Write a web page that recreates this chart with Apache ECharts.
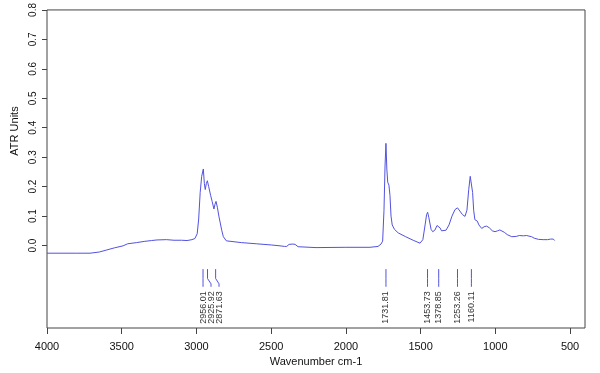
<!DOCTYPE html>
<html>
<head>
<meta charset="utf-8">
<script src="https://cdn.jsdelivr.net/npm/echarts@6/dist/echarts.min.js"></script>
<style>
html,body{margin:0;padding:0;background:#fff;}
#chart{width:600px;height:373px;}
</style>
</head>
<body>
<div id="chart"></div>
<script>
// Spectrum: wavenumber (cm-1) and ATR absorbance
var wavenumbers = [4000,3800,3712,3650,3600,3550,3491,3460,3450,3400,3350,3300,3264,3200,3150,3100,3063,3030,3010,2995,2985,2975,2965,2954,2947,2941,2934,2927,2918,2905,2895,2883,2876,2869,2860,2850,2842,2830,2820,2800,2787,2700,2600,2500,2441,2410,2396,2380,2367,2355,2340,2320,2307,2200,2000,1839,1785,1765,1754,1745,1738,1732,1726,1720,1712,1705,1698,1690,1675,1650,1600,1550,1504,1485,1470,1460,1453,1445,1430,1419,1405,1390,1379,1370,1360,1348,1330,1310,1290,1270,1253,1240,1220,1203,1190,1178,1168,1160,1152,1145,1137,1128,1121,1110,1091,1075,1058,1040,1020,1002,985,970,957,940,920,890,860,840,813,790,775,757,740,712,680,650,630,612,603];
var absorbance = [-0.026,-0.026,-0.026,-0.022,-0.015,-0.008,-0.001,0.006,0.004,0.010,0.014,0.017,0.019,0.020,0.018,0.018,0.017,0.020,0.024,0.040,0.090,0.180,0.235,0.260,0.210,0.190,0.210,0.220,0.200,0.170,0.150,0.124,0.140,0.150,0.130,0.100,0.080,0.050,0.030,0.016,0.013,0.010,0.006,0.002,-0.001,-0.003,-0.003,0.004,0.010,0.005,0.004,-0.004,-0.007,-0.007,-0.006,-0.006,-0.003,0.005,0.015,0.120,0.270,0.347,0.260,0.215,0.205,0.170,0.100,0.070,0.055,0.043,0.030,0.018,0.008,0.020,0.070,0.105,0.113,0.095,0.055,0.047,0.052,0.068,0.074,0.060,0.050,0.047,0.052,0.070,0.100,0.122,0.128,0.122,0.105,0.099,0.120,0.190,0.235,0.241,0.180,0.120,0.088,0.088,0.083,0.070,0.058,0.064,0.066,0.060,0.050,0.047,0.050,0.053,0.052,0.045,0.037,0.030,0.031,0.034,0.033,0.034,0.032,0.030,0.025,0.021,0.020,0.020,0.022,0.022,0.017];

// Annotated peaks
var peakPositions = [2956.01,2925.92,2871.63,1731.81,1453.73,1378.85,1253.26,1160.11];
var peakLabels = ['2956.01','2925.92','2871.63','1731.81','1453.73','1378.85','1253.26','1160.11'];

// Axis ticks
var xTicks = [4000,3500,3000,2500,2000,1500,1000,500];
var yTicks = [0,0.1,0.2,0.3,0.4,0.5,0.6,0.7,0.8];

var FONT = 'Liberation Sans, Arial, sans-serif';
var BLUE = '#5252e0';
var AXIS = '#444';

var spectrum = wavenumbers.map(function (w, i) { return [w, absorbance[i]]; });
var peakData = peakPositions.map(function (w, i) { return [w, 0, i]; });

function renderPeak(params, api) {
  var idx = api.value(2);
  // pixel x of every peak, then spread labels so they don't overlap
  var xs = peakPositions.map(function (w) { return api.coord([w, 0])[0]; });
  var order = xs.map(function (x, i) { return i; }).sort(function (a, b) { return xs[a] - xs[b]; });
  var labelX = [];
  var prev = -Infinity;
  order.forEach(function (i) {
    var lx = Math.max(xs[i], prev + 8);
    labelX[i] = lx;
    prev = lx;
  });
  var x0 = xs[idx], lx = labelX[idx];
  var yTop = api.coord([0, -0.08])[1];
  var yBend = api.coord([0, -0.112])[1];
  var yBend2 = api.coord([0, -0.13])[1];
  var yEnd = api.coord([0, -0.14])[1];
  var yText = api.coord([0, -0.155])[1];
  return {
    type: 'group',
    children: [
      {
        type: 'polyline',
        shape: { points: [[x0, yTop], [x0, yBend], [lx, yBend2], [lx, yEnd]] },
        style: { stroke: BLUE, lineWidth: 1, fill: null }
      },
      {
        type: 'text',
        x: lx, y: yText,
        rotation: Math.PI / 2,
        style: {
          text: peakLabels[idx],
          align: 'right',
          verticalAlign: 'middle',
          fill: '#333',
          font: '9px ' + FONT
        }
      }
    ]
  };
}

var chart = echarts.init(document.getElementById('chart'), null, { renderer: 'canvas' });
chart.setOption({
  animation: false,
  backgroundColor: '#fff',
  grid: {
    left: 47, right: 15, top: 5, bottom: 45,
    show: true, borderColor: AXIS, borderWidth: 1, backgroundColor: 'transparent'
  },
  xAxis: {
    type: 'value',
    inverse: true,
    min: 400, max: 4000,
    name: 'Wavenumber cm-1',
    nameLocation: 'middle',
    nameGap: 27,
    nameTextStyle: { fontFamily: FONT, fontSize: 11, color: '#111' },
    axisLine: { show: false, onZero: false },
    splitLine: { show: false },
    axisTick: { show: true, inside: false, length: 6, lineStyle: { color: AXIS }, customValues: xTicks },
    axisLabel: {
      fontFamily: FONT, fontSize: 11, color: '#111', margin: 13,
      customValues: xTicks, showMinLabel: true, showMaxLabel: true,
      formatter: function (v) { return String(v); }
    }
  },
  yAxis: {
    type: 'value',
    min: -0.28, max: 0.8,
    axisLine: { show: false, onZero: false },
    splitLine: { show: false },
    axisTick: { show: true, length: 5, lineStyle: { color: AXIS }, customValues: yTicks },
    axisLabel: {
      fontFamily: FONT, fontSize: 10, color: '#111', margin: 9, rotate: 90,
      customValues: yTicks,
      formatter: function (v) { return v.toFixed(1); }
    }
  },
  graphic: [{
    type: 'text',
    x: 15, y: 131,
    rotation: Math.PI / 2,
    style: { text: 'ATR Units', font: '11px ' + FONT, fill: '#111', align: 'center', verticalAlign: 'middle' }
  }],
  series: [
    {
      type: 'line',
      data: spectrum,
      showSymbol: false,
      lineStyle: { color: BLUE, width: 1 },
      itemStyle: { color: BLUE },
      silent: true
    },
    {
      type: 'custom',
      data: peakData,
      renderItem: renderPeak,
      clip: false,
      silent: true
    }
  ]
});
</script>
</body>
</html>
